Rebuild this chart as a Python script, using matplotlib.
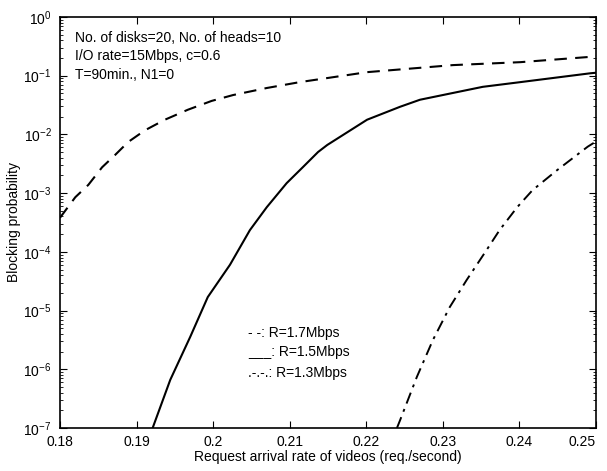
import matplotlib
matplotlib.use("Agg")
import matplotlib.pyplot as plt
import numpy as np

plt.rcParams["font.family"] = ["Liberation Sans", "DejaVu Sans"]

# ─── Data (log10 of blocking probability) ────────────────────────────────────
x_17 = [0.1800, 0.1820, 0.1837, 0.1855, 0.1872, 0.1889, 0.1911, 0.1937,
        0.1967, 0.1998, 0.2026, 0.2070, 0.2113, 0.2201, 0.2313, 0.2401,
        0.2492, 0.2500]
logp_17 = [-3.42, -3.07, -2.86, -2.56, -2.35, -2.13, -1.93, -1.75,
           -1.58, -1.43, -1.33, -1.21, -1.11, -0.94, -0.82, -0.77,
           -0.68, -0.67]

x_15 = [0.1921, 0.1944, 0.1970, 0.1993, 0.2022, 0.2048, 0.2070, 0.2096,
        0.2117, 0.2137, 0.2149, 0.2201, 0.2244, 0.2270, 0.2352, 0.2401,
        0.2492, 0.2500]
logp_15 = [-7.0, -6.18, -5.45, -4.77, -4.22, -3.63, -3.24, -2.83,
           -2.56, -2.30, -2.18, -1.75, -1.53, -1.41, -1.19, -1.11,
           -0.96, -0.95]

x_13 = [0.2240, 0.2244, 0.2266, 0.2287, 0.2309, 0.2331, 0.2357, 0.2374,
        0.2397, 0.2417, 0.2449, 0.2489, 0.2500]
logp_13 = [-7.0, -6.87, -6.13, -5.50, -4.94, -4.48, -3.97, -3.63,
           -3.24, -2.95, -2.61, -2.21, -2.12]

x_ticks = [0.18, 0.19, 0.2, 0.21, 0.22, 0.23, 0.24, 0.25]
x_ticklabels = ["0.18", "0.19", "0.2", "0.21", "0.22", "0.23", "0.24", "0.25"]

info_lines = ["No. of disks=20, No. of heads=10",
              "I/O rate=15Mbps, c=0.6",
              "T=90min., N1=0"]
legend_lines = ["- -: R=1.7Mbps", "___: R=1.5Mbps", ".-.-.: R=1.3Mbps"]

# ─── Figure ──────────────────────────────────────────────────────────────────
fig = plt.figure(figsize=(6.07, 4.71), dpi=100)
ax = fig.add_axes([0.0988, 0.0913, 0.8832, 0.8727])

ax.semilogy(x_17, 10 ** np.array(logp_17), color="black", lw=1.5,
            linestyle=(0, (6, 4)))
ax.semilogy(x_15, 10 ** np.array(logp_15), color="black", lw=1.5)
ax.semilogy(x_13, 10 ** np.array(logp_13), color="black", lw=1.4,
            linestyle=(0, (6, 3, 1.5, 3)))

ax.set_xlim(0.18, 0.25)
ax.set_ylim(1e-7, 1e0)
ax.set_xticks(x_ticks)
ax.set_xticklabels(x_ticklabels)
ax.tick_params(which="both", direction="in", top=True, right=True,
               labelsize=10, color="black")
ax.tick_params(which="major", length=5)
ax.tick_params(which="minor", length=2.5)
ax.tick_params(axis="x", pad=5)
ax.tick_params(axis="y", pad=6)
# keep the last x label inside the canvas, like the original
ax.get_xticklabels()[-1].set_horizontalalignment("right")
ax.get_xticklabels()[-1].set_x(0.2503)
for s in ax.spines.values():
    s.set_linewidth(1.2)

ax.set_xlabel("Request arrival rate of videos (req./second)", fontsize=10,
              labelpad=1)
ax.set_ylabel("Blocking probability", fontsize=10, labelpad=2)

for i, line in enumerate(info_lines):
    ax.text(0.028, 0.965 - i * 0.044, line, transform=ax.transAxes,
            fontsize=10, va="top", ha="left")

legend_y = [0.231, 0.185, 0.134]
for y, line in zip(legend_y, legend_lines):
    ax.text(0.351, y, line, transform=ax.transAxes, fontsize=10,
            va="center", ha="left")

plt.savefig("out.png", dpi=100)
plt.close()
